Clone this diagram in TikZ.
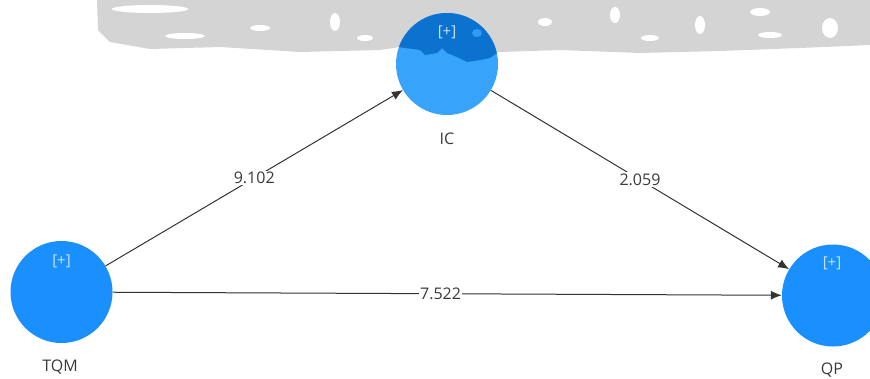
\documentclass[tikz,border=0pt]{standalone}
\usepackage{fontspec}
\setmainfont{Open Sans}
\usetikzlibrary{arrows.meta}
\definecolor{nodeblue}{HTML}{1A90FF}
\definecolor{iclight}{HTML}{38A3FA}
\definecolor{icdark}{HTML}{0B72CF}
\definecolor{wm}{HTML}{D4D4D4}
\definecolor{txt}{HTML}{3A3A3A}
\definecolor{plus}{HTML}{C9E3FF}
\tikzset{
  lv/.style={circle, minimum size=102pt, inner sep=0pt, fill=nodeblue},
  lvname/.style={font=\fontsize{16}{19}\selectfont, text=txt, inner sep=0pt},
  plusmark/.style={font=\fontsize{15}{18}\selectfont, text=plus, inner sep=0pt},
  path/.style={draw=black!80, line width=1pt, -{Latex[length=11pt,width=9pt]}},
  coef/.style={font=\fontsize{16}{19}\selectfont, text=txt, fill=white, inner sep=1.5pt}
}
\begin{document}
\begin{tikzpicture}[x=1pt,y=-1pt]
\useasboundingbox (0,0) rectangle (870,378);
% watermark band
\fill[wm] (97,0) -- (870,0) -- (870,45) -- (800,48) -- (720,51) -- (640,53) -- (560,50) -- (500,52)
  -- (420,44) -- (380,50) -- (300,52) -- (220,47) -- (150,49) -- (110,42) -- (98,30) -- cycle;
\fill[white] (150,9) ellipse (38pt and 4pt);
\fill[white] (185,36) ellipse (20pt and 3pt);
\fill[white] (260,28) ellipse (10pt and 3pt);
\fill[white] (335,22) ellipse (5pt and 9pt);
\fill[white] (365,38) ellipse (8pt and 3pt);
\fill[white] (545,22) ellipse (7pt and 4pt);
\fill[white] (615,15) ellipse (5pt and 8pt);
\fill[white] (650,38) ellipse (9pt and 3pt);
\fill[white] (700,25) ellipse (5pt and 9pt);
\fill[white] (760,12) ellipse (10pt and 4pt);
\fill[white] (770,35) ellipse (12pt and 3pt);
\fill[white] (830,28) ellipse (8pt and 10pt);

% latent variables
\node[lv] (tqm) at (61.5,292) {};
\node[lv, fill=iclight] (ic) at (447,64) {};
\node[lv] (qp) at (833,295.5) {};
\begin{scope}
  \clip (447,64) circle (51pt);
  \fill[icdark] (390,0) -- (505,0) -- (505,52) -- (497,53) -- (490,58) -- (480,60) -- (467,62)
    -- (457,57) -- (447,53) -- (442,48) -- (437,53) -- (425,55) -- (420,50) -- (398,47) -- (390,47) -- cycle;
  \fill[iclight!85!icdark] (477,33) ellipse (5pt and 4pt);
\end{scope}

\node[plusmark] (tqmplus) at (61.5,261) {[+]};
\node[plusmark] (icplus) at (447,32) {[+]};
\node[plusmark] (qpplus) at (832,263) {[+]};

\node[lvname] (tqmlabel) at (60,367) {TQM};
\node[lvname] (iclabel) at (447,139) {IC};
\node[lvname] (qplabel) at (832,370) {QP};

% paths
\draw[path] (tqm) -- node[coef, pos=0.5] (c1) {9.102} (ic);
\draw[path] (ic) -- node[coef, pos=0.5] (c2) {2.059} (qp);
\draw[path] (tqm) -- node[coef, pos=0.49] (c3) {7.522} (qp);
\end{tikzpicture}
\end{document}
